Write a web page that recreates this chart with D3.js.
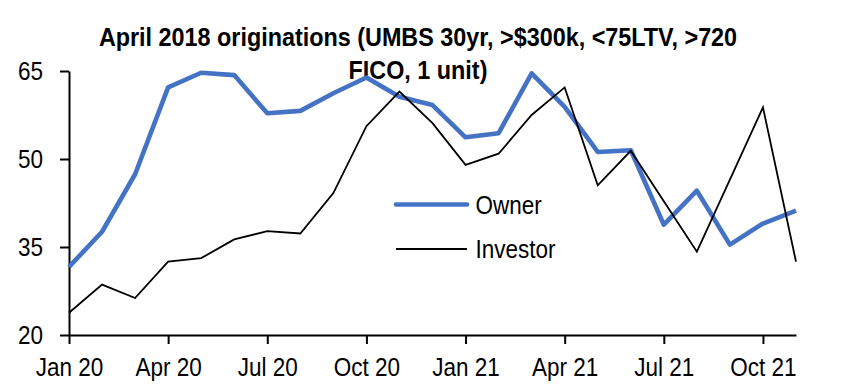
<!DOCTYPE html>
<html>
<head>
<meta charset="utf-8">
<script src="https://cdn.jsdelivr.net/npm/d3@7"></script>
<style>
  html, body { margin: 0; padding: 0; background: #fff; }
  svg { display: block; }
  text { font-family: "Liberation Sans", Arial, sans-serif; fill: #000; }
</style>
</head>
<body>
<svg id="chart" width="852" height="391"></svg>
<script>
// ---- data ----
const categories = ["Jan 20","Feb 20","Mar 20","Apr 20","May 20","Jun 20","Jul 20","Aug 20","Sep 20","Oct 20","Nov 20","Dec 20",
                    "Jan 21","Feb 21","Mar 21","Apr 21","May 21","Jun 21","Jul 21","Aug 21","Sep 21","Oct 21","Nov 21"];
const owner    = [31.6, 37.6, 47.4, 62.2, 64.7, 64.3, 57.8, 58.2, 61.2, 63.9, 60.6, 59.2, 53.7, 54.4, 64.6, 58.9, 51.2, 51.5, 38.8, 44.6, 35.4, 39.0, 41.2];
const investor = [23.8, 28.6, 26.3, 32.5, 33.1, 36.3, 37.7, 37.3, 44.2, 55.6, 61.5, 56.1, 49.0, 50.9, 57.5, 62.2, 45.5, 51.4, 42.8, 34.2, 46.5, 58.8, 32.5];
const xTickLabels = ["Jan 20","Apr 20","Jul 20","Oct 20","Jan 21","Apr 21","Jul 21","Oct 21"];
const yTicks = [20, 35, 50, 65];
const seriesNames = ["Owner", "Investor"];
const titleLines = ["April 2018 originations (UMBS 30yr, >$300k, <75LTV, >720", "FICO, 1 unit)"];

// ---- layout ----
const W = 852, H = 391;
const margin = { left: 69, right: 56, top: 71, bottom: 56 };
const FS = 25, SX = 0.9;

const svg = d3.select("#chart");

const x = d3.scaleLinear().domain([0, categories.length - 1]).range([margin.left, W - margin.right]);
const y = d3.scaleLinear().domain([20, 65]).range([H - margin.bottom, margin.top]);

// title
titleLines.forEach((t, i) => {
  svg.append("text")
    .attr("transform", `translate(418,${45.7 + i * 33.5}) scale(0.935,1)`)
    .attr("text-anchor", "middle")
    .attr("font-weight", "bold")
    .attr("font-size", FS)
    .text(t);
});

// axes
const xTickIdx = xTickLabels.map(l => categories.indexOf(l));
const xAxis = d3.axisBottom(x).tickValues(xTickIdx).tickFormat(i => categories[i]).tickSize(9).tickSizeOuter(0);
const yAxis = d3.axisLeft(y).tickValues(yTicks).tickSize(9).tickSizeOuter(0);

const gx = svg.append("g").attr("transform", `translate(0,${H - margin.bottom})`).call(xAxis);
const gy = svg.append("g").attr("transform", `translate(${margin.left},0)`).call(yAxis);

[gx, gy].forEach(g => {
  g.select(".domain").attr("stroke", "#000").attr("stroke-width", 2);
  g.selectAll(".tick line").attr("stroke", "#000").attr("stroke-width", 2);
  g.selectAll(".tick text").attr("font-size", FS).attr("font-family", "Liberation Sans, Arial, sans-serif").attr("fill", "#000");
});
gx.selectAll(".tick text")
  .attr("y", null).attr("dy", null)
  .attr("transform", `translate(0,41) scale(${SX},1)`);
gy.selectAll(".tick text")
  .attr("x", null).attr("dy", "0.34em")
  .attr("transform", `translate(-26,0) scale(${SX},1)`);

// lines
const line = d3.line().x((d, i) => x(i)).y(d => y(d));

svg.append("path").datum(owner)
  .attr("fill", "none").attr("stroke", "#4472C4").attr("stroke-width", 4.6)
  .attr("stroke-linejoin", "round").attr("d", line);

svg.append("path").datum(investor)
  .attr("fill", "none").attr("stroke", "#000").attr("stroke-width", 1.8)
  .attr("stroke-linejoin", "miter").attr("d", line);

// legend
const legend = [
  { name: seriesNames[0], color: "#4472C4", width: 4.6, y: 204.5 },
  { name: seriesNames[1], color: "#000", width: 1.8, y: 249 }
];
legend.forEach(l => {
  svg.append("line").attr("x1", 396).attr("x2", 467).attr("y1", l.y).attr("y2", l.y)
    .attr("stroke", l.color).attr("stroke-width", l.width).attr("stroke-linecap", l.width > 3 ? "round" : "butt");
  svg.append("text")
    .attr("transform", `translate(475.5,${l.y + 9}) scale(${SX},1)`)
    .attr("font-size", FS)
    .text(l.name);
});
</script>
</body>
</html>
